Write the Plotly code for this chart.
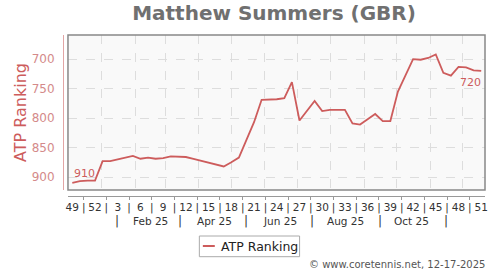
import pandas as pd
import plotly.graph_objects as go

# ---------------- data ----------------
first_week = "2024-12-05"          # week 49 of 2024 (mid-week)
ranks = [910, 907, 906, 906, 873, 873, 870, 867, 864, 869,
         867, 869, 868, 865, 866, 866, 869, 872, 876, 879,
         882, 875, 867, 837, 807, 769, 769, 768, 766, 739,
         804, 788, 771, 788, 786, 786, 786, 809, 811, 802,
         793, 805, 805, 755, 726, 700, 701, 698, 692, 723,
         728, 713, 714, 719, 720]
week_labels = ["49", "52", "3", "6", "9", "12", "15", "18", "21", "24",
               "27", "30", "33", "36", "39", "42", "45", "48", "51"]
month_labels = ["Feb 25", "Apr 25", "Jun 25", "Aug 25", "Oct 25"]
month_label_dates = ["2025-02-15", "2025-04-15", "2025-06-15", "2025-08-15", "2025-10-15"]
month_sep_dates = ["2025-01-15", "2025-03-15", "2025-05-15", "2025-07-15", "2025-09-15", "2025-11-15"]
month_grid = pd.date_range("2025-01-01", "2025-12-01", freq="MS")
y_ticks = [700, 750, 800, 850, 900]
series_name = "ATP Ranking"
title_text = "Matthew Summers (GBR)"
credit_text = "© www.coretennis.net, 12-17-2025"

dates = pd.date_range(first_week, periods=len(ranks), freq="7D")
label_dates = pd.date_range(first_week, periods=len(week_labels), freq="21D")
sep_dates = [d + pd.Timedelta(hours=252) for d in label_dates[:-1]]

# ---------------- style ----------------
LINE = "#cd5c5c"
FONT = "DejaVu Sans"
W, H = 500, 270
ML, MR, MT, MB = 63, 13, 35, 74
PW = W - ML - MR
PH = H - MT - MB


def px_x(p):
    return (p - ML) / PW


def px_y(p):
    return (MT + PH - p) / PH


x_range = [pd.Timestamp("2024-12-01"), pd.Timestamp("2025-12-21 12:00")]

fig = go.Figure()
fig.add_trace(go.Scatter(x=dates, y=ranks, mode="lines", name=series_name,
                         line=dict(color=LINE, width=1.8), showlegend=False,
                         xaxis="x", yaxis="y"))
# invisible trace on the label axis
fig.add_trace(go.Scatter(x=[x_range[0], x_range[1]], y=[ranks[0], ranks[0]],
                         mode="lines", line=dict(width=0), opacity=0,
                         showlegend=False, hoverinfo="skip",
                         xaxis="x2", yaxis="y"))

tickvals2 = []
ticktext2 = []
for i, d in enumerate(label_dates):
    tickvals2.append(d)
    ticktext2.append(week_labels[i])
    if i < len(sep_dates):
        tickvals2.append(sep_dates[i])
        ticktext2.append("|")

fig.update_layout(
    width=W, height=H,
    margin=dict(l=ML, r=MR, t=MT, b=MB, pad=0),
    paper_bgcolor="white",
    plot_bgcolor="#f9f9f9",
    font=dict(family=FONT, color="#333333"),
    title=dict(text="<b>" + title_text + "</b>", x=0.5, xanchor="center",
               xref="paper", y=1 - 13 / H, yref="container", yanchor="middle",
               font=dict(size=20, color="#707070", family=FONT)),
    xaxis=dict(type="date", domain=[5 / PW, 1], range=x_range,
               tickvals=list(month_grid), showticklabels=False, ticks="",
               showgrid=True, gridcolor="#dddddd", griddash="dash", gridwidth=1,
               zeroline=False, showline=False, anchor="y"),
    xaxis2=dict(type="date", overlaying="x", matches="x", range=x_range,
                anchor="free", position=0, side="bottom",
                tickvals=tickvals2, ticktext=ticktext2, ticks="",
                showgrid=False, showline=True, linecolor="#999999", linewidth=1,
                tickfont=dict(size=10.5, color="#333333", family=FONT),
                ticklabelstandoff=1,
                minor=dict(ticks="outside", ticklen=3, tickcolor="#999999",
                           tick0=sep_dates[0], dtick=21 * 86400000, showgrid=False)),
    yaxis=dict(domain=[6 / PH, 1], range=[922, 659], tickvals=y_ticks,
               anchor="free", position=0, side="left",
               showgrid=True, gridcolor="#dddddd", griddash="dash", gridwidth=1,
               zeroline=False, showline=True, linecolor="#e2a5a5", linewidth=1,
               ticks="", ticklabelstandoff=6,
               tickfont=dict(size=12, color="#d48a8a", family=FONT),
               title=dict(text=series_name, standoff=0,
                          font=dict(size=16, color=LINE, family=FONT))),
)

# plot border
fig.add_shape(type="rect", xref="x domain", yref="y domain", x0=0, x1=1, y0=0, y1=1,
              line=dict(color="#888888", width=1.5), layer="above")

# first / last value labels
fig.add_annotation(x=dates[0], y=ranks[0], xref="x", yref="y", text=str(ranks[0]),
                   showarrow=False, xanchor="left", yanchor="bottom",
                   xshift=0, yshift=1, font=dict(size=11, color=LINE, family=FONT))
fig.add_annotation(x=dates[-1], y=ranks[-1], xref="x", yref="y", text=str(ranks[-1]),
                   showarrow=False, xanchor="right", yanchor="top",
                   xshift=2, yshift=-3, font=dict(size=11, color=LINE, family=FONT))

# month row
for d, t in zip(month_label_dates, month_labels):
    fig.add_annotation(x=d, y=px_y(221), xref="x", yref="paper", text=t,
                       showarrow=False, xanchor="center", yanchor="middle",
                       font=dict(size=10.5, color="#333333", family=FONT))
for d in month_sep_dates:
    fig.add_annotation(x=d, y=px_y(221), xref="x", yref="paper", text="|",
                       showarrow=False, xanchor="center", yanchor="middle",
                       font=dict(size=12, color="#333333", family=FONT))

# legend (drawn)
fig.add_shape(type="rect", xref="paper", yref="paper",
              x0=px_x(200), x1=px_x(300.7), y0=px_y(256.7), y1=px_y(236),
              line=dict(color="#aaaaaa", width=1), fillcolor="white")
fig.add_shape(type="line", xref="paper", yref="paper",
              x0=px_x(203.5), x1=px_x(215.5), y0=px_y(246), y1=px_y(246),
              line=dict(color=LINE, width=2))
fig.add_annotation(x=px_x(220), y=px_y(246.5), xref="paper", yref="paper",
                   text=series_name, showarrow=False, xanchor="left", yanchor="middle",
                   font=dict(size=12.5, color="#222222", family=FONT))

# credit
fig.add_annotation(x=px_x(489), y=px_y(264), xref="paper", yref="paper",
                   text=credit_text, showarrow=False, xanchor="right", yanchor="middle",
                   font=dict(size=10, color="#555555", family=FONT))

fig.write_html("out.html")
